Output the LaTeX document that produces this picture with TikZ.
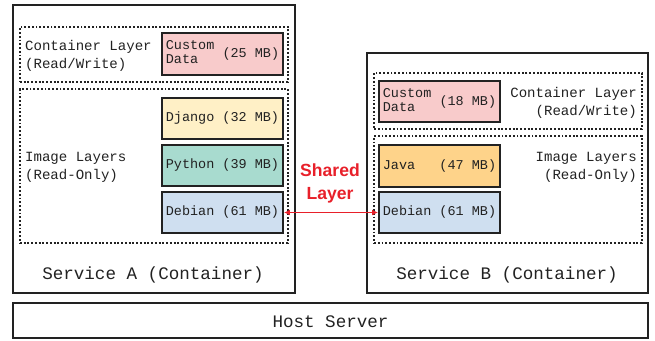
\documentclass[tikz,border=0pt]{standalone}
\usepackage{fontspec}
\setmonofont{Liberation Mono}
\newfontfamily\sharedfont{Liberation Sans}
\usetikzlibrary{fit,arrows.meta}
\definecolor{dataRed}{HTML}{F8CBCB}
\definecolor{djangoYel}{HTML}{FFF0C6}
\definecolor{pythonTeal}{HTML}{A8DBCF}
\definecolor{debianBlue}{HTML}{CFDFF0}
\definecolor{javaOrange}{HTML}{FED38A}
\definecolor{sharedRed}{HTML}{E8202A}
\definecolor{ink}{HTML}{222222}
\begin{document}
\begin{tikzpicture}[x=0.03cm, y=-0.03cm, ink,
    service/.style={draw, line width=1.6pt, inner sep=0},
    layer/.style={draw, line width=1.5pt, dash pattern=on 1.6pt off 1.6pt, inner sep=0},
    pkg/.style={draw, line width=1.7pt, inner sep=0, minimum width=3.63cm, minimum height=1.24cm,
      font=\ttfamily\fontsize{11.5}{12}\selectfont},
    lbl/.style={font=\ttfamily\fontsize{12}{15.3}\selectfont},
    title/.style={font=\ttfamily\fontsize{15}{18}\selectfont}]
  \useasboundingbox (0,0) rectangle (655,340);
  % hosts and services
  \node[service, fit={(13,303) (648,338)}] (host) {};
  \node[title] at ([yshift=-1pt]host.center) {Host Server};
  \node[service, fit={(13,5) (295,293)}] (srvA) {};
  \node[title] at (153,275) {Service A (Container)};
  \node[service, fit={(367,53) (648,293)}] (srvB) {};
  \node[title] at (507,275) {Service B (Container)};
  % service A layers
  \node[layer, fit={(20,27) (288,82)}] (contA) {};
  \node[layer, fit={(20,89) (288,243)}] (imgA) {};
  \node[lbl, anchor=west, align=left] (contAlbl) at (21,56) {Container Layer\\(Read/Write)};
  \node[lbl, anchor=west, align=left] (imgAlbl) at (21,167.5) {Image Layers\\(Read-Only)};
  \node[pkg, fill=dataRed] (dataA) at (222.5,54)
    {\begin{tabular}{@{}l@{ }l@{}}\begin{tabular}{@{}l@{}}Custom\\Data\end{tabular} & (25 MB)\end{tabular}};
  \node[pkg, fill=djangoYel] (django) at (222.5,118.5) {Django (32 MB)};
  \node[pkg, fill=pythonTeal] (python) at (222.5,165.5) {Python (39 MB)};
  \node[pkg, fill=debianBlue] (debA) at (222.5,212.5) {Debian (61 MB)};
  % service B layers
  \node[layer, fit={(374,73) (642,129)}] (contB) {};
  \node[layer, fit={(374,136) (642,243)}] (imgB) {};
  \node[lbl, anchor=east, align=right] (contBlbl) at (641,103) {Container Layer\\(Read/Write)};
  \node[lbl, anchor=east, align=right] (imgBlbl) at (641,167.5) {Image Layers\\(Read-Only)};
  \node[pkg, fill=dataRed] (dataB) at (439.5,101.5)
    {\begin{tabular}{@{}l@{ }l@{}}\begin{tabular}{@{}l@{}}Custom\\Data\end{tabular} & (18 MB)\end{tabular}};
  \node[pkg, fill=javaOrange] (java) at (439.5,166) {Java\ \ \ (47 MB)};
  \node[pkg, fill=debianBlue] (debB) at (439.5,212.5) {Debian (61 MB)};
  % shared layer
  \node[sharedRed, align=center, font=\sharedfont\bfseries\fontsize{15}{19.5}\selectfont] (shared) at (330,183.5) {Shared\\Layer};
  \draw[sharedRed, line width=1.3pt, {Latex[length=5pt,width=5pt]}-{Latex[length=5pt,width=5pt]}] (debA.east) -- (debB.west);
\end{tikzpicture}
\end{document}
